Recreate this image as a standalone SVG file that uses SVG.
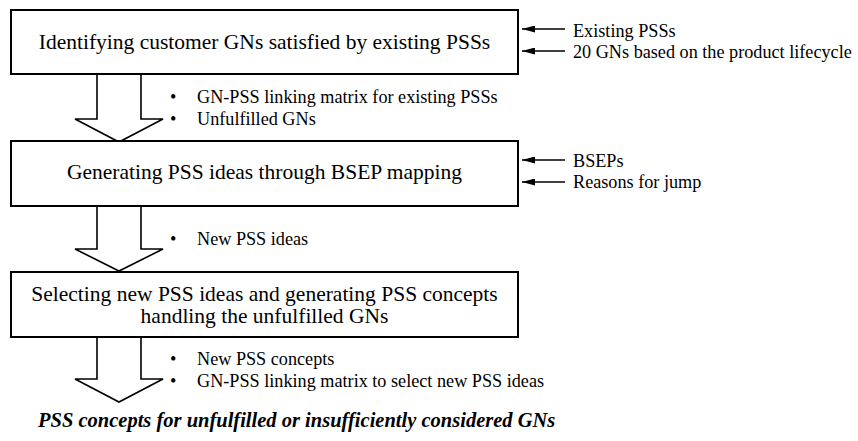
<svg xmlns="http://www.w3.org/2000/svg" width="858" height="441" viewBox="0 0 858 441">
  <style>
    .box { fill: #fff; stroke: #000; stroke-width: 2; }
    .flow { fill: #fff; stroke: #000; stroke-width: 1.6; stroke-linejoin: miter; }
    text { font-family: 'Liberation Serif', 'Times New Roman', 'DejaVu Serif', serif; fill: #000; }
    .main { font-size: 21.5px; }
    .note { font-size: 18.2px; }
    .out { font-size: 20.5px; font-weight: bold; font-style: italic; }
    .in { stroke: #000; stroke-width: 1.5; fill: none; marker-end: url(#head); }
  </style>
  <defs>
    <marker id="head" viewBox="0 0 13 7" refX="13" refY="3.5" markerWidth="13" markerHeight="7" markerUnits="userSpaceOnUse" orient="auto">
      <path d="M0,0 L13,3.5 L0,7 Z" fill="#000"/>
    </marker>
  </defs>

  <!-- block arrows between steps -->
  <g id="flow-arrows">
    <path class="flow" d="M97,74 V119 H75 L119,142 L163,119 H141 V74"/>
    <path class="flow" d="M97,206 V249 H75 L119,271 L163,249 H141 V206"/>
    <path class="flow" d="M97,337 V379 H75 L119,402 L163,379 H141 V337"/>
  </g>

  <!-- input arrows on the right -->
  <g id="connectors">
    <line class="in" x1="565" y1="29" x2="522" y2="29"/>
    <line class="in" x1="565" y1="51" x2="522" y2="51"/>
    <line class="in" x1="565" y1="160" x2="522" y2="160"/>
    <line class="in" x1="565" y1="182" x2="522" y2="182"/>
  </g>

  <g id="step1">
    <rect class="box" x="11" y="10" width="507" height="64"/>
    <text class="main" x="264.5" y="48.5" text-anchor="middle">Identifying customer GNs satisfied by existing PSSs</text>
  </g>
  <g id="step1-inputs">
    <text class="note" x="573" y="37">Existing PSSs</text>
    <text class="note" x="573" y="58">20 GNs based on the product lifecycle</text>
  </g>
  <g id="step1-outputs">
    <text class="note" x="170" y="103">•</text>
    <text class="note" x="197" y="103">GN-PSS linking matrix for existing PSSs</text>
    <text class="note" x="170" y="125">•</text>
    <text class="note" x="197" y="125">Unfulfilled GNs</text>
  </g>

  <g id="step2">
    <rect class="box" x="11" y="141" width="507" height="65"/>
    <text class="main" x="264.5" y="178.5" text-anchor="middle">Generating PSS ideas through BSEP mapping</text>
  </g>
  <g id="step2-inputs">
    <text class="note" x="573" y="167">BSEPs</text>
    <text class="note" x="573" y="188">Reasons for jump</text>
  </g>
  <g id="step2-outputs">
    <text class="note" x="170" y="245">•</text>
    <text class="note" x="197" y="245">New PSS ideas</text>
  </g>

  <g id="step3">
    <rect class="box" x="11" y="272" width="507" height="65"/>
    <text class="main" x="264.5" y="300.5" text-anchor="middle">Selecting new PSS ideas and generating PSS concepts</text>
    <text class="main" x="264.5" y="323" text-anchor="middle">handling the unfulfilled GNs</text>
  </g>
  <g id="step3-outputs">
    <text class="note" x="170" y="365">•</text>
    <text class="note" x="197" y="365">New PSS concepts</text>
    <text class="note" x="170" y="387">•</text>
    <text class="note" x="197" y="387">GN-PSS linking matrix to select new PSS ideas</text>
  </g>

  <g id="result">
    <text class="out" x="38" y="427">PSS concepts for unfulfilled or insufficiently considered GNs</text>
  </g>
</svg>
